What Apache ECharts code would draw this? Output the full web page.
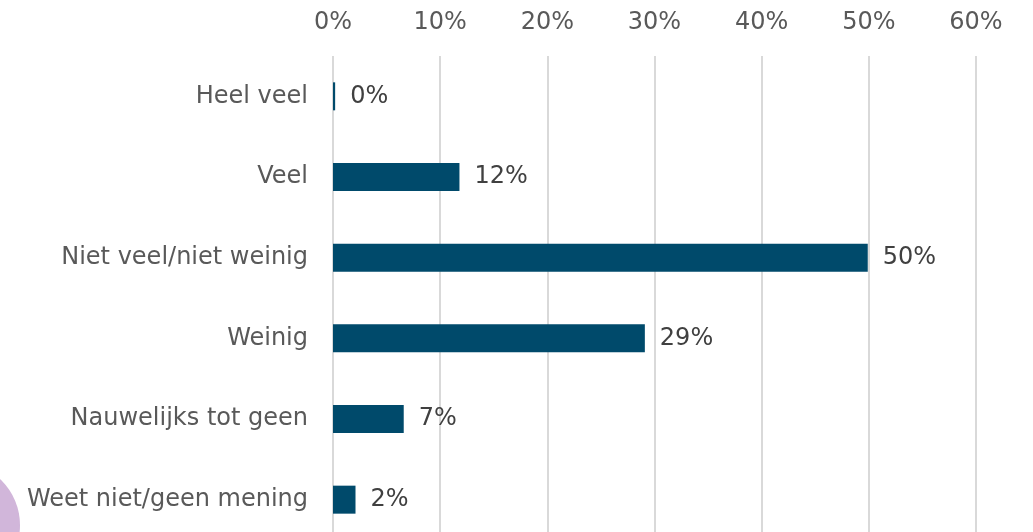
<!DOCTYPE html>
<html><head><meta charset="utf-8">
<script src="https://cdn.jsdelivr.net/npm/echarts@6/dist/echarts.min.js"></script>
<style>html,body{margin:0;padding:0;background:#fff;}#c{width:1033px;height:532px;}</style>
</head><body><div id="c"></div>
<script>
const categories = ["Heel veel","Veel","Niet veel/niet weinig","Weinig","Nauwelijks tot geen","Weet niet/geen mening"];
const values = [0.2, 11.8, 49.9, 29.1, 6.6, 2.1];
const tickMax = 60;
const tickStep = 10;

const chart = echarts.init(document.getElementById('c'), null, {renderer:'canvas'});
const font = 'DejaVu Sans';
chart.setOption({
  animation:false,
  backgroundColor:'#ffffff',
  grid:{left:333, width:643, top:56, height:484, containLabel:false, outerBoundsMode:'none'},
  xAxis:{type:'value', position:'top', min:0, max:tickMax, interval:tickStep,
    axisLine:{show:false}, axisTick:{show:false},
    splitLine:{show:true, lineStyle:{color:'#d9d9d9', width:2}},
    axisLabel:{formatter:v=>v+'%', color:'#595959', fontFamily:font, fontSize:24, margin:21}},
  yAxis:{type:'category', data:categories, inverse:true,
    axisLine:{show:false}, axisTick:{show:false},
    axisLabel:{color:'#595959', fontFamily:font, fontSize:24, margin:25}},
  series:[{type:'bar', data:values, barWidth:28,
    itemStyle:{color:'#004a6b'},
    label:{show:true, position:'right', distance:15, color:'#404040', fontFamily:font, fontSize:24,
      formatter:p=>Math.round(p.value)+'%'}}],
  graphic:[{type:'circle', shape:{cx:-43, cy:525, r:63}, style:{fill:'#d1b6da'}, z:-1}]
});
</script></body></html>
